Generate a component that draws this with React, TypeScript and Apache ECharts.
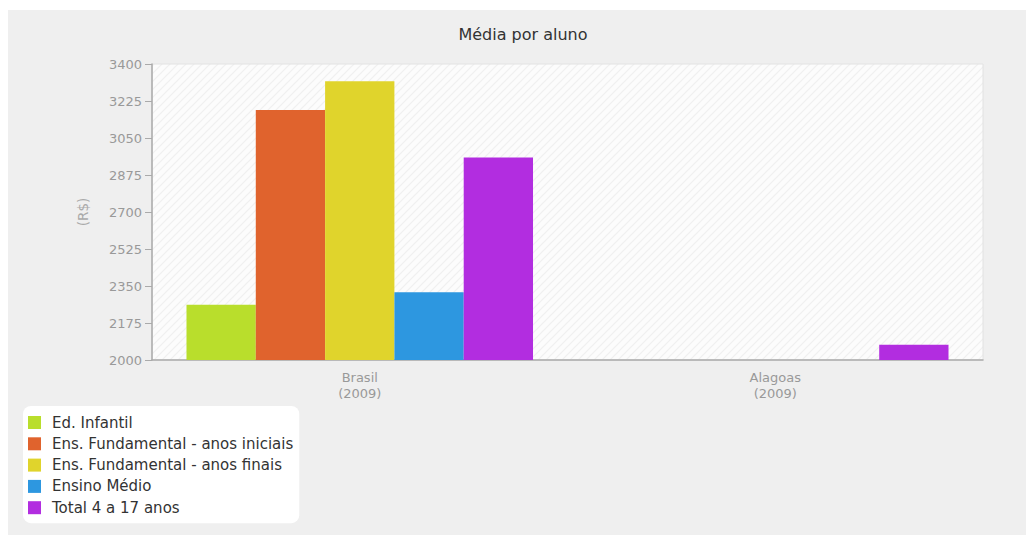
import React, { useEffect, useRef } from "react";
import * as echarts from "echarts";

const categories = ["Brasil\n(2009)", "Alagoas\n(2009)"];
const seriesNames = [
  "Ed. Infantil",
  "Ens. Fundamental - anos iniciais",
  "Ens. Fundamental - anos finais",
  "Ensino Médio",
  "Total 4 a 17 anos",
];
const edInfantil = [2261, null];
const fundIniciais = [3182, null];
const fundFinais = [3319, null];
const ensinoMedio = [2321, null];
const total4a17 = [2958, 2072];
const colors = ["#b9de2c", "#e0632d", "#e0d42c", "#2d97e0", "#b22de0"];
const yMin = 2000;
const yMax = 3400;
const yInterval = 175;

const FONT = "DejaVu Sans";

const hatch =
  "data:image/svg+xml;utf8," +
  encodeURIComponent(
    '<svg xmlns="http://www.w3.org/2000/svg" width="8" height="8"><rect width="8" height="8" fill="#fcfcfc"/><path d="M-2 2 L2 -2 M0 8 L8 0 M6 10 L10 6" stroke="#f0f0f0" stroke-width="1.2"/></svg>'
  );

export default function App() {
  const ref = useRef<HTMLDivElement>(null);
  useEffect(() => {
    if (!ref.current) return;
    const chart = echarts.init(ref.current, undefined, { renderer: "svg" });
    const values = [edInfantil, fundIniciais, fundFinais, ensinoMedio, total4a17];
    chart.setOption({
      animation: false,
      backgroundColor: "#efefef",
      textStyle: { fontFamily: FONT },
      graphic: [
        {
          type: "text",
          x: 515,
          y: 24,
          style: {
            text: "Média por aluno",
            fill: "#333",
            font: `16px "${FONT}"`,
            textAlign: "center",
            textVerticalAlign: "middle",
          },
        },
      ],
      grid: {
        left: 144,
        top: 54,
        right: 43,
        bottom: 175,
        show: true,
        borderColor: "#e2e2e2",
        borderWidth: 1,
        backgroundColor: { image: hatch, repeat: "repeat" },
      },
      legend: {
        orient: "vertical",
        left: 15,
        top: 396,
        padding: [9, 6, 8, 5],
        backgroundColor: "#ffffff",
        borderRadius: 8,
        itemWidth: 13,
        itemHeight: 13,
        itemGap: 6.3,
        icon: "rect",
        textStyle: {
          fontSize: 15,
          lineHeight: 13,
          color: "#333",
          fontFamily: FONT,
          padding: [0, 0, 0, 6],
        },
        data: seriesNames,
      },
      xAxis: {
        type: "category",
        data: categories,
        axisLine: { lineStyle: { color: "#aaa", width: 1.5 } },
        axisTick: { alignWithLabel: true, length: 6, lineStyle: { color: "#aaa" } },
        axisLabel: { color: "#999", fontSize: 13, lineHeight: 16, margin: 9, fontFamily: FONT },
      },
      yAxis: {
        type: "value",
        min: yMin,
        max: yMax,
        interval: yInterval,
        name: "(R$)",
        nameLocation: "middle",
        nameGap: 62,
        nameTextStyle: { color: "#aaa", fontSize: 13.5, fontFamily: FONT },
        axisLine: { show: true, lineStyle: { color: "#aaa", width: 1.5 } },
        axisTick: { show: true, length: 7, lineStyle: { color: "#aaa" } },
        axisLabel: {
          color: "#999",
          fontSize: 13,
          margin: 10,
          fontFamily: FONT,
          formatter: (v: number) => String(v),
        },
        splitLine: { show: false },
      },
      series: seriesNames.map((name, i) => ({
        name,
        type: "bar",
        data: values[i],
        barGap: "0%",
        barCategoryGap: "16.6%",
        itemStyle: { color: colors[i] },
      })),
    });
    return () => chart.dispose();
  }, []);
  return (
    <div
      ref={ref}
      style={{ position: "absolute", left: 8, top: 10, width: 1018, height: 525 }}
    />
  );
}
